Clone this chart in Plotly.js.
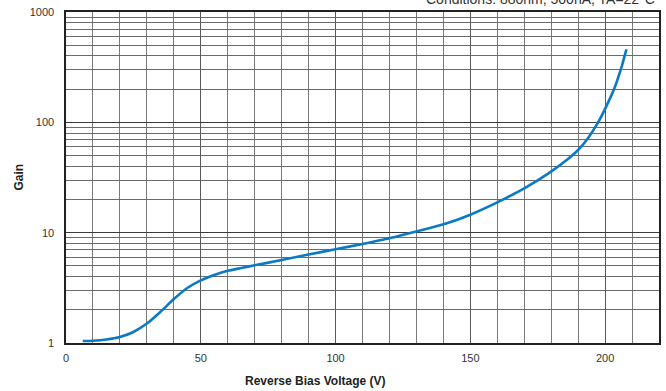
<!DOCTYPE html>
<html>
<head>
<meta charset="utf-8">
<script src="https://cdn.plot.ly/plotly-3.0.1.min.js"></script>
<style>html,body{margin:0;padding:0;background:#fff;}#chart{width:666px;height:391px;}</style>
</head>
<body>
<div id="chart"></div>
<script>
const voltage = [6.2, 10, 15, 20, 25, 30, 35, 40, 45, 50, 55, 60, 65, 70, 80, 90, 100, 110, 120, 127, 135, 141, 150, 160, 170, 179, 186, 190, 193.7, 197.4, 201.1, 203.6, 206, 207.9];
const gain = [1.043, 1.049, 1.076, 1.133, 1.258, 1.50, 1.91, 2.5, 3.15, 3.69, 4.13, 4.51, 4.78, 5.06, 5.65, 6.34, 7.07, 7.91, 8.91, 9.85, 11.0, 12.08, 14.55, 18.8, 25.2, 34.5, 46, 56.1, 72, 99.7, 151, 208, 311, 459];
const yTicks = [1, 10, 100, 1000];
const yTickText = ['1', '10', '100', '1000'];
const yMinor = [2,3,4,5,6,7,8,9,20,30,40,50,60,70,80,90,200,300,400,500,600,700,800,900];
const xTicks = [0, 50, 100, 150, 200];
const titleText = 'Conditions: 880nm, 500nA, TA=22°C';
const xTitle = 'Reverse Bias Voltage (V)';
const yTitle = 'Gain';

const font = 'Liberation Sans, Arial, Helvetica, sans-serif';
Plotly.newPlot('chart', [{
  x: voltage, y: gain, type: 'scatter', mode: 'lines',
  line: {color: '#0a7ac6', width: 2.6, shape: 'spline', smoothing: 0.6},
  hoverinfo: 'skip'
}], {
  width: 666, height: 391,
  margin: {l: 66, r: 7, t: 12, b: 48},
  paper_bgcolor: '#fff', plot_bgcolor: '#fff',
  showlegend: false,
  font: {family: font, size: 11, color: '#333'},
  xaxis: {
    range: [0, 220], tickvals: xTicks, ticks: '', ticklabelstandoff: 4,
    showgrid: true, gridcolor: '#5a5a5a', gridwidth: 1,
    minor: {dtick: 10, tick0: 0, showgrid: true, gridcolor: '#7a7a7a', gridwidth: 1, ticks: ''},
    showline: true, linecolor: '#222', linewidth: 1.6, mirror: true, zeroline: false,
    tickfont: {family: font, size: 11, color: '#333'}
  },
  yaxis: {
    type: 'log', range: [0, 3], tickvals: yTicks, ticktext: yTickText, ticks: '', ticklabelstandoff: 8,
    showgrid: true, gridcolor: '#3a3a3a', gridwidth: 1,
    minor: {tickmode: 'array', tickvals: yMinor, showgrid: true, gridcolor: '#6a6a6a', gridwidth: 1, ticks: ''},
    showline: true, linecolor: '#222', linewidth: 1.6, mirror: true, zeroline: false,
    tickfont: {family: font, size: 11, color: '#333'}
  },
  annotations: [
    {text: '<b>' + xTitle + '</b>', xref: 'paper', yref: 'paper', x: 0.42, y: 0, yshift: -38, xanchor: 'center', yanchor: 'middle', showarrow: false, font: {family: font, size: 12, color: '#222'}},
    {text: '<b>' + yTitle + '</b>', xref: 'paper', yref: 'paper', x: 0, xshift: -48, y: 0.5, textangle: -90, xanchor: 'center', yanchor: 'middle', showarrow: false, font: {family: font, size: 12, color: '#222'}},
    {text: titleText, xref: 'paper', yref: 'paper', x: 1, xshift: -2, y: 1, yshift: 3, xanchor: 'right', yanchor: 'bottom', showarrow: false, font: {family: font, size: 14, color: '#333'}}
  ]
}, {staticPlot: true});
</script>
</body>
</html>
